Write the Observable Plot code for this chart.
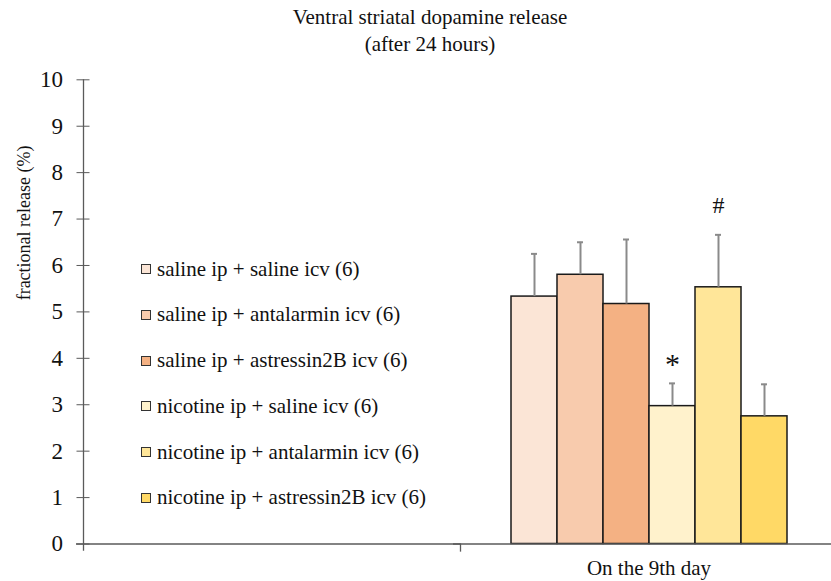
<!DOCTYPE html>
<html><head><meta charset="utf-8">
<script src="https://cdn.jsdelivr.net/npm/d3@7"></script>
<script src="https://cdn.jsdelivr.net/npm/@observablehq/plot@0.6"></script>
<style>
body{margin:0;background:#fff;font-family:"Liberation Serif","Times New Roman",serif;color:#111;}
#wrap{position:relative;width:831px;height:581px;overflow:hidden;}
#title{height:56px;box-sizing:border-box;padding-top:4px;padding-left:29px;text-align:center;font-size:21px;line-height:27px;}
#legend{position:absolute;left:141px;top:246.4px;font-size:21px;}
.row{height:45.74px;display:flex;align-items:center;white-space:nowrap;}
.sw{width:8px;height:8px;border:1px solid #333;margin-right:6px;flex:none;}
#chart svg{max-width:none !important;}
</style></head><body>
<div id="wrap">
<div id="title">Ventral striatal dopamine release<br>(after 24 hours)</div>
<div id="chart"></div>
<div id="legend"></div>
</div>
<script>
const groups = [
  "saline ip + saline icv (6)",
  "saline ip + antalarmin icv (6)",
  "saline ip + astressin2B icv (6)",
  "nicotine ip + saline icv (6)",
  "nicotine ip + antalarmin icv (6)",
  "nicotine ip + astressin2B icv (6)"
];
const means = [5.33, 5.80, 5.17, 2.97, 5.53, 2.75];
const sems = [0.92, 0.70, 1.39, 0.49, 1.13, 0.69];
const colors = ["#FBE5D6", "#F8CBAD", "#F4B183", "#FFF2CC", "#FFE699", "#FFD966"];
const days = ["", "On the 9th day"];
const dayLabel = "On the 9th day";
const yTicks = [0, 1, 2, 3, 4, 5, 6, 7, 8, 9, 10];
const starGroup = groups[3];
const hashGroup = groups[4];
const yLabel = "fractional release (%)";

const data = groups.map((g, i) => ({day: dayLabel, group: g, mean: means[i], sem: sems[i], top: means[i] + sems[i]}));
const axisColor = "#5a5a5a";

const chart = Plot.plot({
  width: 837, height: 525,
  marginLeft: 82, marginRight: 0, marginTop: 23.3, marginBottom: 37.5,
  style: {fontFamily: "Liberation Serif, Times New Roman, serif", fontSize: "21px", background: "white", color: "#111", overflow: "visible", maxWidth: "none"},
  fx: {domain: days, padding: 0, axis: null, label: null},
  x: {domain: groups, paddingInner: 0, paddingOuter: 1.09, axis: null},
  y: {domain: [0, 10], axis: null},
  color: {domain: groups, range: colors},
  marks: [
    Plot.barY(data, {fx: "day", x: "group", y: "mean", fill: "group", stroke: "#1a1a1a", strokeWidth: 1.5}),
    Plot.ruleX(data, {fx: "day", x: "group", y1: "mean", y2: "top", stroke: "#8a8a8a", strokeWidth: 2}),
    Plot.tickY(data, {fx: "day", x: "group", y: "top", stroke: "#8a8a8a", strokeWidth: 2, insetLeft: 20, insetRight: 20}),
    Plot.text(data.filter(d => d.group === starGroup), {fx: "day", x: "group", y: "top", text: () => "*", dy: -19, fontSize: 30}),
    Plot.text(data.filter(d => d.group === hashGroup), {fx: "day", x: "group", y: "top", text: () => "#", dy: -30, fontSize: 24}),
    Plot.frame({anchor: "left", fx: () => "", insetBottom: -6, stroke: axisColor, strokeWidth: 1.3}),
    Plot.frame({anchor: "left", fx: () => dayLabel, insetTop: 464.2, insetBottom: -7, stroke: axisColor, strokeWidth: 1.3}),
    Plot.ruleY([0], {insetLeft: -7, stroke: axisColor, strokeWidth: 1.3}),
    Plot.axisY(yTicks, {fx: () => "", tickSize: 13, tickPadding: 14, dx: 6.5, tickFormat: d => d, stroke: axisColor, fontSize: 23, label: null}),
    Plot.axisFx({anchor: "bottom", tickSize: 0, tickPadding: 16, fontSize: 21, label: null}),
    Plot.text([yLabel], {facet: "super", frameAnchor: "left", textAnchor: "middle", rotate: -90, dx: -59, dy: -89, fontSize: 18})
  ]
});
document.getElementById("chart").appendChild(chart);

const legend = d3.select("#legend");
groups.forEach((g, i) => {
  const row = legend.append("div").attr("class", "row");
  row.append("div").attr("class", "sw").style("background", colors[i]);
  row.append("span").text(g);
});
</script>
</body></html>
